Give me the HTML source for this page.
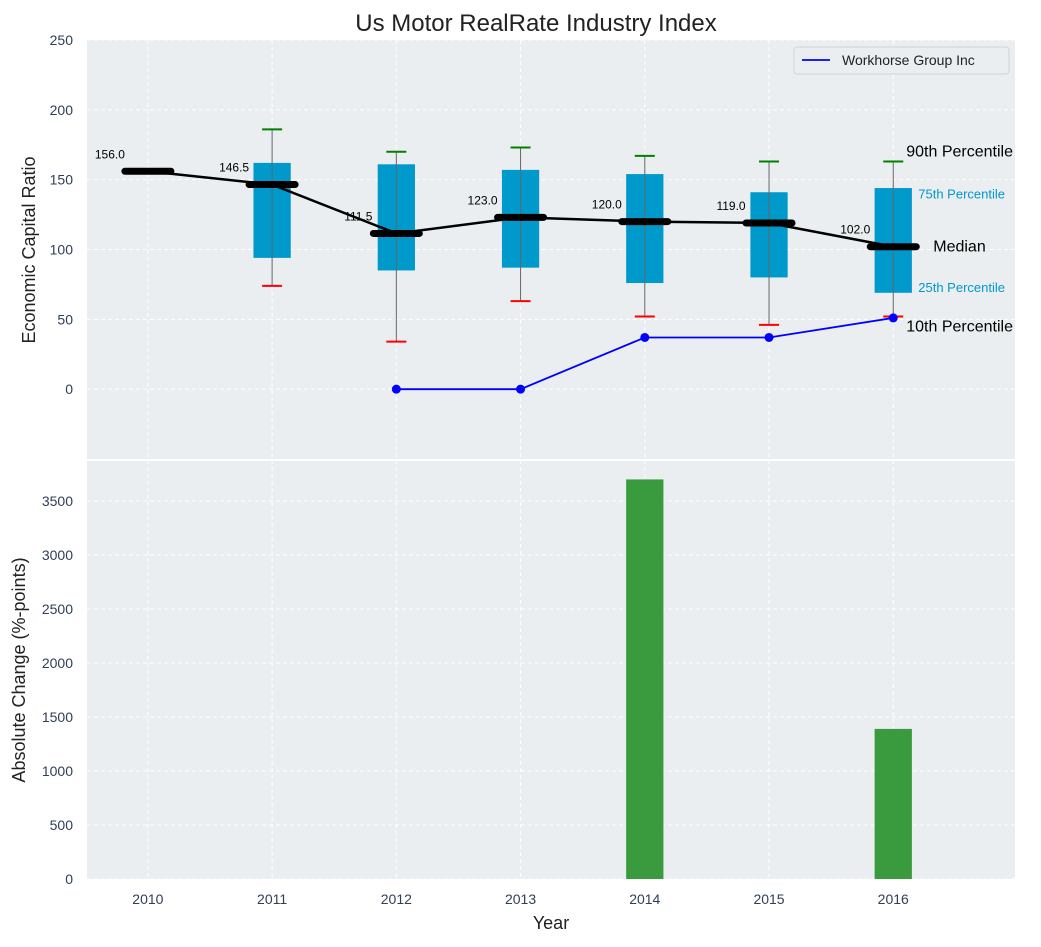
<!DOCTYPE html>
<html><head><meta charset="utf-8"><style>
body{margin:0;background:#fff;}
svg text{font-family:"Liberation Sans","DejaVu Sans",sans-serif;}
</style></head><body>
<svg id="chart" width="1041" height="942" xmlns="http://www.w3.org/2000/svg"></svg>
<script>
const years=[2010,2011,2012,2013,2014,2015,2016];
const medians=[156,146.5,111.5,123,120,119,102];
const q1s=[156,94,85,87,76,80,69];
const q3s=[156,162,161,157,154,141,144];
const p10s=[156,74,34,63,52,46,52];
const p90s=[156,186,170,173,167,163,163];
const coYears=[2012,2013,2014,2015,2016];
const coValues=[0,0,37,37,51];
const barYears=[2014,2016];
const barValues=[3700,1390];
const topTicks=[0,50,100,150,200,250];
const botTicks=[0,500,1000,1500,2000,2500,3000,3500];

const svg=document.getElementById('chart');
const NS='http://www.w3.org/2000/svg';
function mk(tag,attrs,parent,text){const e=document.createElementNS(NS,tag);for(const k in attrs)e.setAttribute(k,attrs[k]);if(text!==undefined)e.textContent=text;(parent||svg).appendChild(e);return e;}
const L=87,R=1015;
const x=v=>L+(v-2009.51)/(2016.98-2009.51)*(R-L);
const T0=40,T1=459;const yT=v=>T1-(v+50)/300*(T1-T0);
const B0=460,B1=879;const yB=v=>B1-v/3880*(B1-B0);
const gridC='#ffffff';

let e=mk('rect',{x:L,y:T0,width:R-L,height:T1-T0,fill:'#eaeef0'});

e=mk('rect',{x:L,y:B0+1,width:R-L,height:B1-B0-1,fill:'#eaeef0'});


years.forEach(yr=>{
 mk('line',{x1:x(yr),x2:x(yr),y1:T0,y2:T1,stroke:gridC,'stroke-dasharray':'4,3','stroke-width':1});
 mk('line',{x1:x(yr),x2:x(yr),y1:B0,y2:B1,stroke:gridC,'stroke-dasharray':'4,3','stroke-width':1});
});
topTicks.forEach(t=>{
 mk('line',{x1:L,x2:R,y1:yT(t),y2:yT(t),stroke:gridC,'stroke-dasharray':'4,3'});
 e=mk('text',{x:L-14,y:yT(t)+5,'text-anchor':'end','font-size':14,fill:'#2f3f55'},null,String(t));
 
});
botTicks.forEach(t=>{
 mk('line',{x1:L,x2:R,y1:yB(t),y2:yB(t),stroke:gridC,'stroke-dasharray':'4,3'});
 e=mk('text',{x:L-14,y:yB(t)+5,'text-anchor':'end','font-size':14,fill:'#2f3f55'},null,String(t));
 
});
years.forEach(yr=>{
 e=mk('text',{x:x(yr),y:904,'text-anchor':'middle','font-size':14,fill:'#2f3f55'},null,String(yr));
 
});

const hw=x(2010.15)-x(2010);
years.forEach((yr,i)=>{
 const cx=x(yr);
 if(q3s[i]>q1s[i]){
  e=mk('rect',{x:cx-hw,y:yT(q3s[i]),width:2*hw,height:yT(q1s[i])-yT(q3s[i]),fill:'#0099cc'});
  
 }
 if(p90s[i]>p10s[i]){
  mk('line',{x1:cx,x2:cx,y1:yT(p90s[i]),y2:yT(p10s[i]),stroke:'#666','stroke-width':1});
  e=mk('line',{x1:cx-10,x2:cx+10,y1:yT(p90s[i]),y2:yT(p90s[i]),stroke:'green','stroke-width':2});
  
  e=mk('line',{x1:cx-10,x2:cx+10,y1:yT(p10s[i]),y2:yT(p10s[i]),stroke:'red','stroke-width':2});
  
 }
});
e=mk('polyline',{points:years.map((yr,i)=>x(yr)+','+yT(medians[i])).join(' '),fill:'none',stroke:'#000','stroke-width':2.5});

years.forEach((yr,i)=>{
 e=mk('line',{x1:x(yr)-23,x2:x(yr)+23,y1:yT(medians[i]),y2:yT(medians[i]),stroke:'#000','stroke-width':7,'stroke-linecap':'round'});
 
 e=mk('text',{x:x(yr)-38,y:yT(medians[i])-13,'text-anchor':'middle','font-size':12,fill:'#000'},null,medians[i].toFixed(1));
 
});
e=mk('polyline',{points:coYears.map((yr,i)=>x(yr)+','+yT(coValues[i])).join(' '),fill:'none',stroke:'blue','stroke-width':1.8});

coYears.forEach((yr,i)=>{
 e=mk('circle',{cx:x(yr),cy:yT(coValues[i]),r:4.5,fill:'blue'});
 
});
const ax=x(2016);
[['90th Percentile',p90s[6]+7,'#000',16,13],['75th Percentile',q3s[6]-4,'#0099cc',13,25],['Median',medians[6],'#000',16,40],['25th Percentile',q1s[6]+4,'#0099cc',13,25],['10th Percentile',p10s[6]-7,'#000',16,13]].forEach(a=>{
 e=mk('text',{x:ax+a[4],y:yT(a[1])+5,'font-size':a[3],fill:a[2]},null,a[0]);
 
});
barYears.forEach((yr,i)=>{
 e=mk('rect',{x:x(yr)-hw,y:yB(barValues[i]),width:2*hw,height:B1-yB(barValues[i]),fill:'#3a9b3e'});
 
});
e=mk('rect',{x:794,y:47,width:215,height:27,fill:'#eaeef0',stroke:'#cfd4d8',rx:3});

mk('line',{x1:802,x2:830,y1:60,y2:60,stroke:'blue','stroke-width':1.8});
e=mk('text',{x:842,y:65,'font-size':14,fill:'#222'},null,'Workhorse Group Inc');

e=mk('text',{x:536,y:31,'text-anchor':'middle','font-size':24,fill:'#222'},null,'Us Motor RealRate Industry Index');

e=mk('text',{x:0,y:0,'text-anchor':'middle','font-size':18,fill:'#222',transform:'translate(35,250) rotate(-90)'},null,'Economic Capital Ratio');

e=mk('text',{x:0,y:0,'text-anchor':'middle','font-size':18,fill:'#222',transform:'translate(25,670) rotate(-90)'},null,'Absolute Change (%-points)');

e=mk('text',{x:551,y:929,'text-anchor':'middle','font-size':18,fill:'#222'},null,'Year');

</script>
</body></html>
